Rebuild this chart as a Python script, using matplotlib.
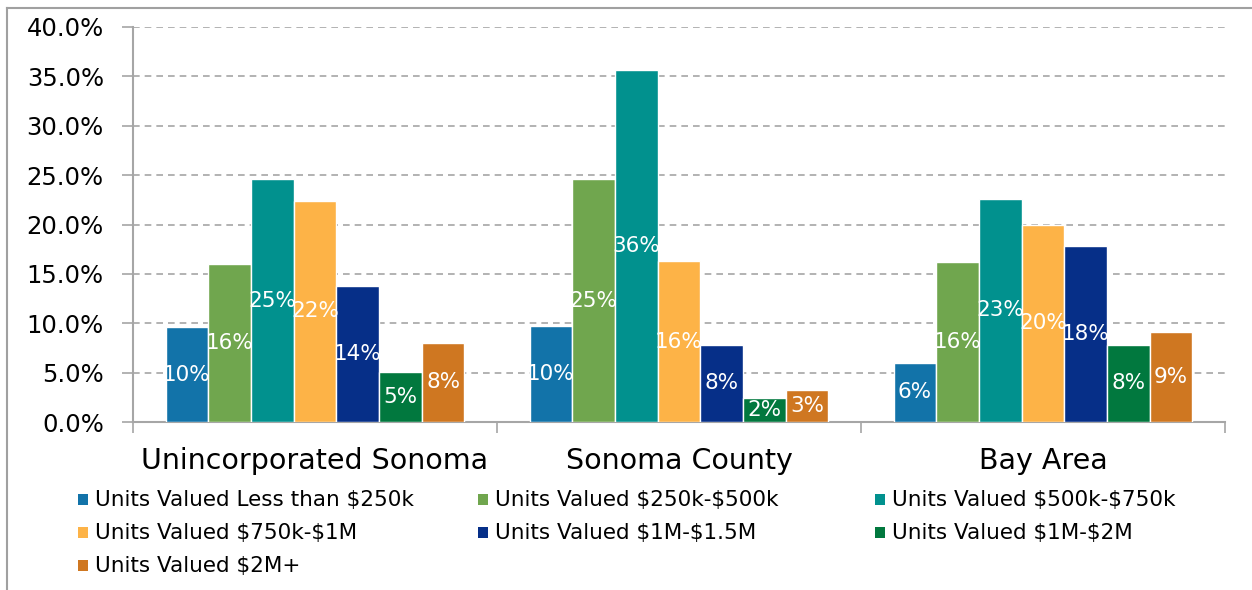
import numpy as np
import matplotlib.pyplot as plt
from matplotlib.lines import Line2D
from matplotlib.patches import Rectangle

plt.rcParams['font.family'] = ['DejaVu Sans']
plt.rcParams['text.parse_math'] = False

regions = ['Unincorporated Sonoma', 'Sonoma County', 'Bay Area']
series = ['Units Valued Less than $250k', 'Units Valued $250k-$500k',
          'Units Valued $500k-$750k', 'Units Valued $750k-$1M',
          'Units Valued $1M-$1.5M', 'Units Valued $1M-$2M',
          'Units Valued $2M+']
# share of units (%) per region, one list per value band
lt250k = [9.6, 9.7, 6.0]
k250_500 = [16.0, 24.6, 16.2]
k500_750 = [24.6, 35.6, 22.6]
k750_1m = [22.4, 16.3, 20.0]
m1_15 = [13.8, 7.8, 17.8]
m1_2 = [5.1, 2.4, 7.8]
m2plus = [8.0, 3.2, 9.1]
values = [lt250k, k250_500, k500_750, k750_1m, m1_15, m1_2, m2plus]

colors = ['#1273a9', '#70a64e', '#01918e', '#fdb347', '#062f88', '#01783e', '#cf7721']

fig = plt.figure(figsize=(12.52, 5.9), dpi=100)
ax = fig.add_axes([133/1252, 1-422/590, (1225-133)/1252, (422-27)/590])

x = np.arange(len(regions))
w = 0.1173
for i, (vals, c) in enumerate(zip(values, colors)):
    pos = x + (i - 3) * w
    bars = ax.bar(pos, vals, width=w, color=c, edgecolor='white', linewidth=1.0, zorder=3)
    for b, v in zip(bars, vals):
        ax.text(b.get_x() + b.get_width()/2, v/2, '%d%%' % int(v + 0.5),
                ha='center', va='center', color='white', fontsize=15.5, zorder=4)

ax.set_xlim(-0.5, 2.5)
ax.set_ylim(0, 40)
ax.set_yticks(np.arange(0, 41, 5))
ax.set_yticklabels(['%.1f%%' % t for t in np.arange(0, 41, 5)], fontsize=17.5)
ax.yaxis.grid(True, color='#a6a6a6', linestyle=(0, (4, 3)), linewidth=1.2, zorder=0)

ax.set_xticks([-0.5, 0.5, 1.5, 2.5])
ax.set_xticklabels([])
ax.set_xticks(x, minor=True)
ax.set_xticklabels(regions, minor=True, fontsize=20.5)
ax.tick_params(axis='x', which='minor', length=0, pad=18)
ax.tick_params(axis='x', which='major', length=8, width=1.2, color='#a6a6a6')
ax.tick_params(axis='y', length=8, width=1.2, color='#a6a6a6', pad=13)

for s in ['top', 'right']:
    ax.spines[s].set_visible(False)
for s in ['left', 'bottom']:
    ax.spines[s].set_color('#a6a6a6')
    ax.spines[s].set_linewidth(1.5)

# legend laid out row by row like the original
col_x = [78, 478, 875]
row_y = [500, 533, 566]
for i, (lab, c) in enumerate(zip(series, colors)):
    r, k = divmod(i, 3)
    fx, fy = col_x[k] / 1252, 1 - row_y[r] / 590
    fig.patches.append(Rectangle((fx, fy - 5/590), 10/1252, 11/590, transform=fig.transFigure,
                                 facecolor=c, edgecolor='none'))
    fig.text(fx + 17/1252, fy, lab, fontsize=15.5, va='center', ha='left')

# outer chart border
fig.add_artist(Line2D([7/1252, 7/1252], [0, 1 - 8/590], transform=fig.transFigure,
                      color='#a0a0a0', linewidth=1.5))
fig.add_artist(Line2D([7/1252, 1], [1 - 8/590, 1 - 8/590], transform=fig.transFigure,
                      color='#a0a0a0', linewidth=1.5))

plt.savefig('out.png', dpi=100)
